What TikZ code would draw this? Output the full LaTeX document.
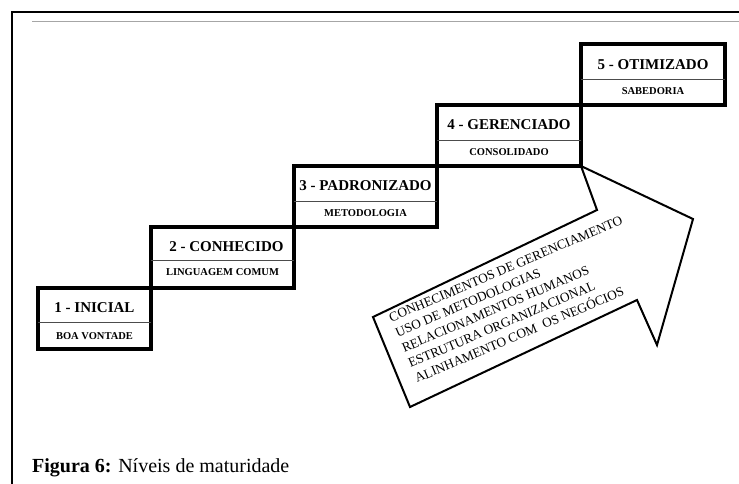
\documentclass[tikz,border=0pt]{standalone}
\usepackage{fontspec}
\setmainfont{Liberation Serif}
\usetikzlibrary{positioning}

\tikzset{
  lvlbox/.style={draw, line width=3.5pt, minimum height=61pt, anchor=south west, inner sep=0pt, outer sep=0pt},
  divider/.style={draw=black!70, line width=0.8pt},
  lvltitle/.style={font=\fontsize{15}{17}\selectfont\bfseries, inner sep=0pt},
  lvlsub/.style={font=\fontsize{10.5}{12}\selectfont\bfseries, inner sep=0pt},
  bigarrow/.style={draw, line width=2pt, line join=miter},
  arrowtext/.style={font=\fontsize{13.3}{16.5}\selectfont, align=left, rotate=23, inner sep=0pt, anchor=base west}
}

\begin{document}
\begin{tikzpicture}[x=1pt,y=-1pt]
    \useasboundingbox (0,0) rectangle (739,484);

        \draw[line width=1.5pt] (12,484) -- (12,12) -- (739,12);
        \draw[black!35, line width=1pt] (32,22) -- (739,22);

        \node[lvlbox, minimum width=113pt] (n1) at (38,349) {};
        \node[lvlbox, minimum width=143pt] (n2) at (n1.north east) {};
        \node[lvlbox, minimum width=143pt] (n3) at (n2.north east) {};
        \node[lvlbox, minimum width=144pt] (n4) at (n3.north east) {};
        \node[lvlbox, minimum width=144pt] (n5) at (n4.north east) {};

        \draw[divider] ([yshift=-34pt]n1.north west) -- ([yshift=-34pt]n1.north east);
        \draw[divider] ([yshift=-33pt]n2.north west) -- ([yshift=-33pt]n2.north east);
        \draw[divider] ([yshift=-35pt]n3.north west) -- ([yshift=-35pt]n3.north east);
        \draw[divider] ([yshift=-35pt]n4.north west) -- ([yshift=-35pt]n4.north east);
        \draw[divider] ([yshift=-35pt]n5.north west) -- ([yshift=-35pt]n5.north east);

        \node[lvltitle] (t1) at ([yshift=-20pt]n1.north) {1 - INICIAL};
        \node[lvlsub] (s1) at ([yshift=-48pt]n1.north) {BOA VONTADE};
        \node[lvltitle] (t2) at ([xshift=4pt,yshift=-20pt]n2.north) {2 - CONHECIDO};
        \node[lvlsub] (s2) at ([yshift=-45pt]n2.north) {LINGUAGEM COMUM};
        \node[lvltitle] (t3) at ([yshift=-20pt]n3.north) {3 - PADRONIZADO};
        \node[lvlsub] (s3) at ([yshift=-47pt]n3.north) {METODOLOGIA};
        \node[lvltitle] (t4) at ([yshift=-20pt]n4.north) {4 - GERENCIADO};
        \node[lvlsub] (s4) at ([yshift=-47pt]n4.north) {CONSOLIDADO};
        \node[lvltitle] (t5) at ([yshift=-21pt]n5.north) {5 - OTIMIZADO};
        \node[lvlsub] (s5) at ([yshift=-47pt]n5.north) {SABEDORIA};

        \draw[bigarrow] (n4.south east) -- (597,210) -- (373,317) -- (410,407)
            -- (637,300) -- (657,345) -- (693,219) -- cycle;

        \node[arrowtext] (txt) at (417,383) {CONHECIMENTOS DE GERENCIAMENTO\\
            USO DE METODOLOGIAS\\
            RELACIONAMENTOS HUMANOS\\
            ESTRUTURA ORGANIZACIONAL\\
            ALINHAMENTO COM \ OS NEGÓCIOS};

        \node[anchor=base west, inner sep=0pt, font=\fontsize{20}{22}\selectfont] (cap) at (32,472)
            {\textbf{Figura 6:} Níveis de maturidade};
    \end{tikzpicture}
\end{document}
